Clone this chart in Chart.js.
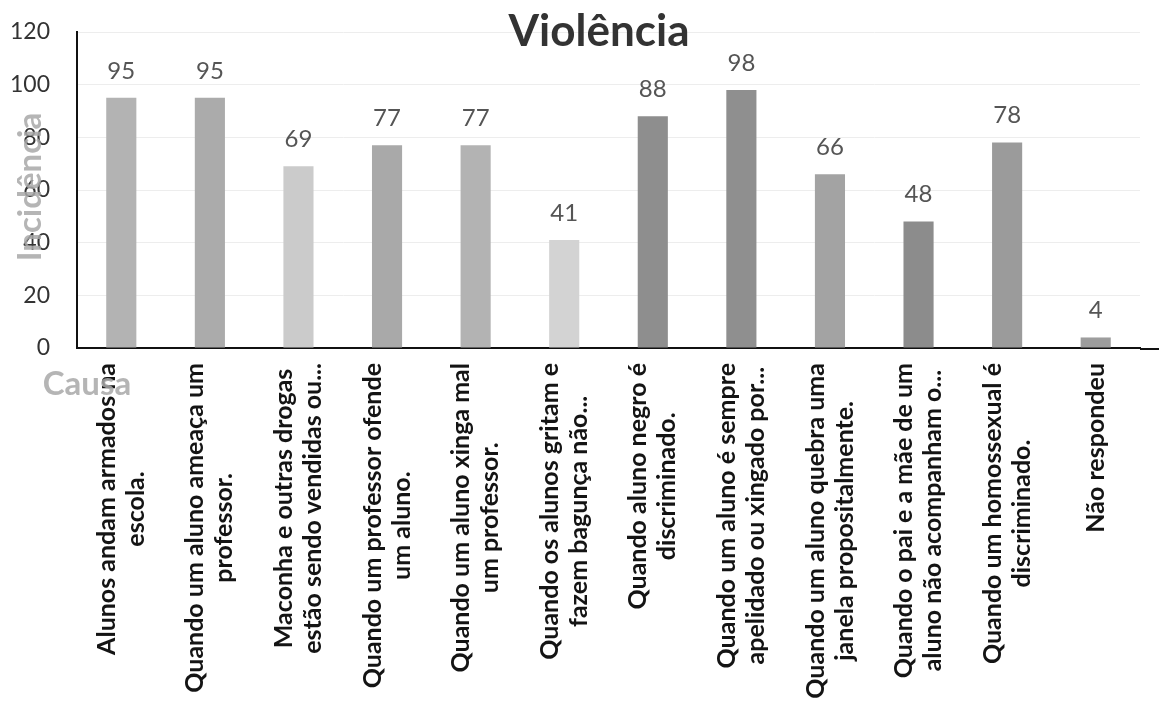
<!DOCTYPE html>
<html>
<head>
<meta charset="utf-8">
<script src="https://cdn.jsdelivr.net/npm/chart.js@4.4.1/dist/chart.umd.min.js"></script>
<style>
  html, body { margin: 0; padding: 0; background: #ffffff; }
  #wrap { width: 1159px; height: 711px; position: relative; }
</style>
</head>
<body>
<div id="wrap"><canvas id="c" width="1159" height="711"></canvas></div>
<script>
const chartTitle = "Violência";
const yAxisTitle = "Incidência";
const xAxisTitle = "Causa";
const categories = [
  ["Alunos andam armados na", "escola."],
  ["Quando um aluno ameaça um", "professor."],
  ["Maconha e outras drogas", "estão sendo vendidas ou..."],
  ["Quando um professor ofende", "um aluno."],
  ["Quando um aluno xinga mal", "um professor."],
  ["Quando os alunos gritam e", "fazem bagunça não..."],
  ["Quando aluno negro é", "discriminado."],
  ["Quando um aluno é sempre", "apelidado ou xingado por..."],
  ["Quando um aluno quebra uma", "janela propositalmente."],
  ["Quando o pai e a mãe de um", "aluno não acompanham o..."],
  ["Quando um homossexual é", "discriminado."],
  ["Não respondeu"]
];
const values = [95, 95, 69, 77, 77, 41, 88, 98, 66, 48, 78, 4];
const barColors = ["#b3b3b3", "#ababab", "#cbcbcb", "#a9a9a9", "#b3b3b3", "#d3d3d3",
                   "#8e8e8e", "#8f8f8f", "#a3a3a3", "#8c8c8c", "#9b9b9b", "#9d9d9d"];
const yTicks = [0, 20, 40, 60, 80, 100, 120];

const FONT = "Lato, 'Open Sans', sans-serif";

const overlayPlugin = {
  id: 'overlay',
  afterDatasetsDraw(chart) {
    const ctx = chart.ctx;
    const meta = chart.getDatasetMeta(0);
    ctx.save();
    ctx.font = "24px " + FONT;
    ctx.fillStyle = "#555555";
    ctx.textAlign = "center";
    ctx.textBaseline = "middle";
    meta.data.forEach((bar, i) => {
      ctx.fillText(String(values[i]), bar.x, bar.y - 27);
    });
    ctx.restore();
  },
  afterDraw(chart) {
    const ctx = chart.ctx;
    const xs = chart.scales.x;
    const area = chart.chartArea;
    ctx.save();
    // extend the category axis line to the right edge, like the reference
    ctx.strokeStyle = "#111111";
    ctx.lineWidth = 2;
    ctx.beginPath();
    ctx.moveTo(area.right, area.bottom + 1);
    ctx.lineTo(chart.width, area.bottom + 1);
    ctx.stroke();
    // category labels, rotated, lines centered within block
    ctx.font = "bold 25px " + FONT;
    ctx.fillStyle = "#141414";
    ctx.textBaseline = "middle";
    ctx.textAlign = "center";
    const lineH = 29;
    categories.forEach((lab, i) => {
      const lines = Array.isArray(lab) ? lab : [lab];
      const w = Math.max(...lines.map(l => ctx.measureText(l).width));
      const x = xs.getPixelForTick(i);
      const top = area.bottom + 15;
      const cy = top + w / 2;
      const n = lines.length;
      lines.forEach((l, k) => {
        const off = (k - (n - 1) / 2) * lineH;
        ctx.save();
        ctx.translate(x + off, cy);
        ctx.rotate(-Math.PI / 2);
        ctx.fillText(l, 0, 0);
        ctx.restore();
      });
    });
    // title
    ctx.font = "bold 44px " + FONT;
    ctx.fillStyle = "#333333";
    ctx.textAlign = "center";
    ctx.textBaseline = "middle";
    ctx.fillText(chartTitle, 599, 32);
    // axis titles (drawn over the ticks, light gray)
    ctx.globalAlpha = 0.85;
    ctx.fillStyle = "#a8a8a8";
    ctx.font = "bold 33px " + FONT;
    ctx.save();
    ctx.translate(30, 187);
    ctx.rotate(-Math.PI / 2);
    ctx.fillText(yAxisTitle, 0, 0);
    ctx.restore();
    ctx.fillText(xAxisTitle, 87, 384);
    ctx.restore();
  }
};

new Chart(document.getElementById('c'), {
  type: 'bar',
  data: {
    labels: categories,
    datasets: [{
      data: values,
      backgroundColor: barColors,
      borderWidth: 0,
      barPercentage: 0.34,
      categoryPercentage: 1.0
    }]
  },
  options: {
    responsive: false,
    animation: false,
    layout: { padding: { top: 32, left: 8, right: 19, bottom: 0 } },
    plugins: {
      legend: { display: false },
      tooltip: { enabled: false },
      title: { display: false }
    },
    scales: {
      x: {
        grid: { display: false, drawTicks: false },
        border: { display: true, color: "#111111", width: 2 },
        ticks: { display: false },
        afterFit(scale) { scale.height = 363; }
      },
      y: {
        min: 0,
        max: 120,
        afterBuildTicks(scale) { scale.ticks = yTicks.map(v => ({ value: v })); },
        grid: { color: "#ededed", drawTicks: true, tickLength: 23, tickColor: "rgba(0,0,0,0)", lineWidth: 1 },
        border: { display: true, color: "#111111", width: 2, dash: [] },
        ticks: {
          font: { family: FONT, size: 23 },
          color: "#333333",
          padding: 4
        },
        afterFit(scale) { scale.width = 69; }
      }
    }
  },
  plugins: [overlayPlugin]
});
</script>
</body>
</html>
